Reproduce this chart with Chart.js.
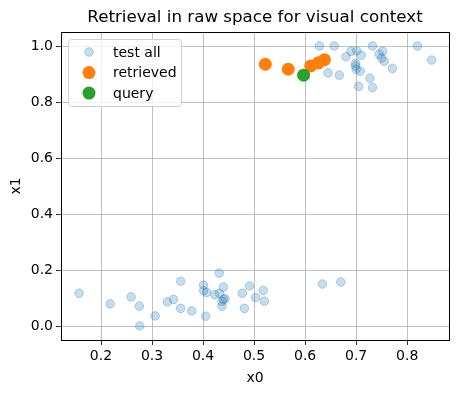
<!DOCTYPE html>
<html>
<head>
<meta charset="utf-8">
<script src="https://cdn.jsdelivr.net/npm/chart.js@4"></script>
<style>
  html, body { margin: 0; padding: 0; background: #fff; }
  #wrap { width: 458px; height: 393px; }
</style>
</head>
<body>
<div id="wrap"><canvas id="chart" width="458" height="393"></canvas></div>
<script>
// data
const testX = [0.628, 0.657, 0.690, 0.701, 0.732, 0.752, 0.820, 0.680, 0.710, 0.745, 0.750, 0.755, 0.848,
  0.699, 0.699, 0.700, 0.708, 0.771, 0.645, 0.667, 0.727, 0.705, 0.732,
  0.157, 0.218, 0.259, 0.275, 0.276, 0.306, 0.330, 0.342, 0.356, 0.356, 0.378, 0.401, 0.401, 0.407,
  0.405, 0.432, 0.423, 0.432, 0.440, 0.440, 0.437, 0.443, 0.437, 0.477, 0.491, 0.481, 0.503, 0.518,
  0.520, 0.634, 0.670];
const testY = [1.000, 1.000, 0.981, 0.983, 1.000, 0.981, 1.000, 0.962, 0.967, 0.971, 0.957, 0.946, 0.950,
  0.938, 0.929, 0.917, 0.910, 0.920, 0.904, 0.896, 0.885, 0.856, 0.852,
  0.117, 0.079, 0.104, 0.071, 0.000, 0.036, 0.086, 0.095, 0.160, 0.063, 0.054, 0.146, 0.126, 0.120,
  0.035, 0.189, 0.112, 0.117, 0.139, 0.095, 0.088, 0.098, 0.071, 0.117, 0.143, 0.063, 0.102, 0.127,
  0.089, 0.150, 0.157];
const retrievedX = [0.522, 0.567, 0.611, 0.626, 0.638];
const retrievedY = [0.935, 0.917, 0.929, 0.940, 0.951];
const queryX = [0.597];
const queryY = [0.896];

const xTicks = [0.2, 0.3, 0.4, 0.5, 0.6, 0.7, 0.8];
const yTicks = [0.0, 0.2, 0.4, 0.6, 0.8, 1.0];

const toPoints = (xs, ys) => xs.map((x, i) => ({ x: x, y: ys[i] }));
const font = 'DejaVu Sans';

// box around the axes (matplotlib spines)
const frame = {
  id: 'frame',
  afterDraw(chart) {
    const a = chart.chartArea, c = chart.ctx;
    c.save();
    c.strokeStyle = '#000';
    c.lineWidth = 1;
    c.strokeRect(Math.round(a.left) + 0.5, Math.round(a.top) + 0.5,
      Math.round(a.right - a.left), Math.round(a.bottom - a.top));
    c.restore();
  }
};

// legend drawn inside the axes, upper left
const innerLegend = {
  id: 'innerLegend',
  afterDraw(chart) {
    const a = chart.chartArea, c = chart.ctx;
    const items = chart.data.datasets.slice().sort((p, q) => p.legendRank - q.legendRank);
    const x0 = a.left + 7, y0 = a.top + 7, w = 113, h = 67;
    c.save();
    c.fillStyle = 'rgba(255,255,255,0.8)';
    c.strokeStyle = '#d0d0d0';
    c.lineWidth = 1;
    c.beginPath();
    c.roundRect(x0 + 0.5, y0 + 0.5, w, h, 3);
    c.fill();
    c.stroke();
    c.font = '14px "' + font + '"';
    c.textBaseline = 'middle';
    items.forEach((ds, i) => {
      const cy = y0 + 13 + i * 20.5;
      c.beginPath();
      c.arc(x0 + 21, cy, ds.pointRadius, 0, Math.PI * 2);
      c.fillStyle = ds.backgroundColor;
      c.fill();
      if (ds.borderWidth) {
        c.strokeStyle = ds.borderColor;
        c.lineWidth = ds.borderWidth;
        c.stroke();
      }
      c.fillStyle = '#000';
      c.fillText(ds.label, x0 + 45, cy + 1);
    });
    c.restore();
  }
};

new Chart(document.getElementById('chart'), {
  type: 'scatter',
  data: {
    datasets: [
      {
        label: 'test all',
        data: toPoints(testX, testY),
        backgroundColor: 'rgba(31,119,180,0.25)',
        borderColor: 'rgba(31,119,180,0.3)',
        borderWidth: 1,
        pointRadius: 4.3,
        order: 3,
        legendRank: 0
      },
      {
        label: 'retrieved',
        data: toPoints(retrievedX, retrievedY),
        backgroundColor: '#ff7f0e',
        borderWidth: 0,
        pointRadius: 6.5,
        order: 2,
        legendRank: 1
      },
      {
        label: 'query',
        data: toPoints(queryX, queryY),
        backgroundColor: '#2ca02c',
        borderWidth: 0,
        pointRadius: 6.5,
        order: 1,
        legendRank: 2
      }
    ]
  },
  options: {
    responsive: false,
    animation: false,
    events: [],
    layout: { padding: { left: 0, right: 9, top: 0, bottom: 0 } },
    plugins: {
      legend: { display: false },
      tooltip: { enabled: false },
      title: {
        display: true,
        fullSize: false,
        text: 'Retrieval in raw space for visual context',
        color: '#000',
        font: { family: font, size: 16.7, weight: 'normal' },
        padding: { top: 8, bottom: 4 }
      }
    },
    scales: {
      x: {
        type: 'linear',
        min: 0.1216,
        max: 0.882,
        afterBuildTicks: s => { s.ticks = xTicks.map(v => ({ value: v })); },
        afterFit: s => { s.height = 53; },
        ticks: {
          color: '#000',
          font: { family: font, size: 14 },
          padding: 3,
          maxRotation: 0,
          callback: v => v.toFixed(1)
        },
        grid: { color: '#b0b0b0', lineWidth: 0.8, tickColor: '#000', tickLength: 5 },
        border: { display: false },
        title: { display: true, text: 'x0', color: '#000', font: { family: font, size: 14 }, padding: { top: 4, bottom: 6 } }
      },
      y: {
        type: 'linear',
        min: -0.05,
        max: 1.05,
        afterBuildTicks: s => { s.ticks = yTicks.map(v => ({ value: v })); },
        afterFit: s => { s.width = 61; },
        ticks: {
          color: '#000',
          font: { family: font, size: 14 },
          padding: 3,
          callback: v => v.toFixed(1)
        },
        grid: { color: '#b0b0b0', lineWidth: 0.8, tickColor: '#000', tickLength: 5 },
        border: { display: false },
        title: { display: true, text: 'x1', color: '#000', font: { family: font, size: 14 }, padding: { top: 8, bottom: 4 } }
      }
    }
  },
  plugins: [frame, innerLegend]
});
</script>
</body>
</html>
